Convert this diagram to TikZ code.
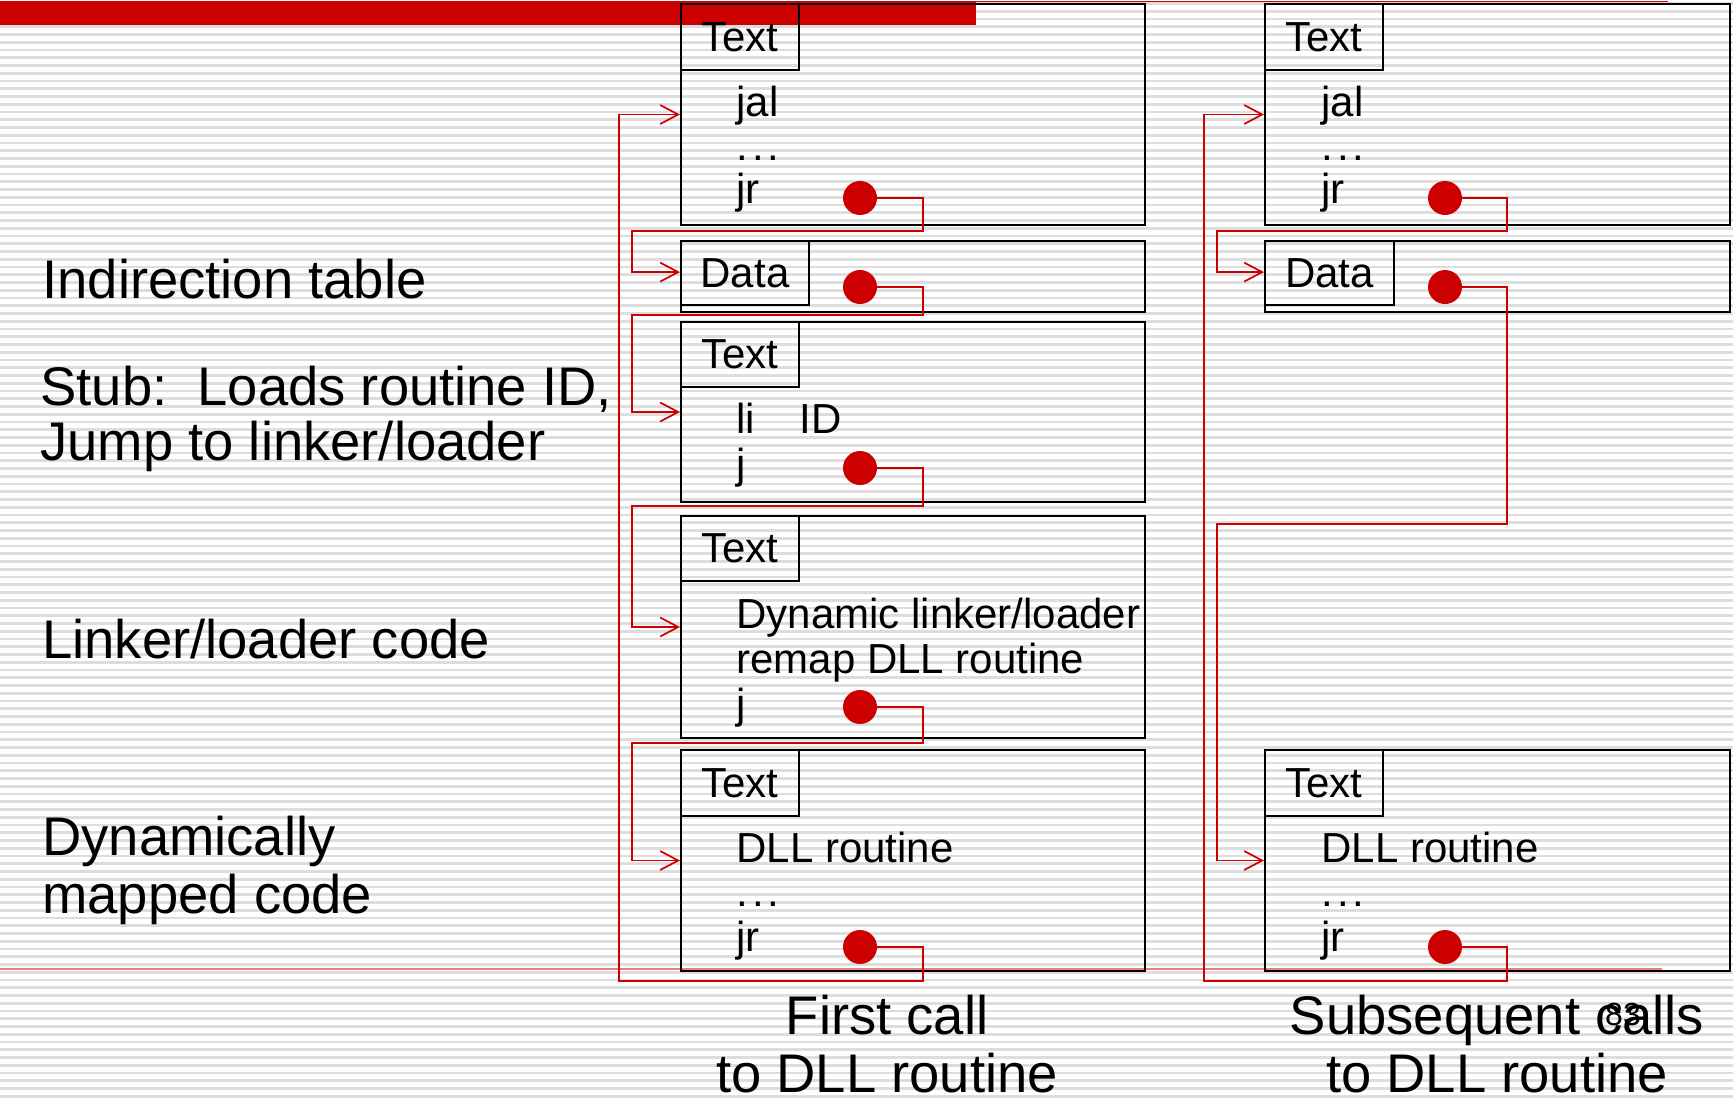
\documentclass[tikz,border=0pt]{standalone}
\usepackage{fontspec}
\setmainfont{Liberation Sans}
\usetikzlibrary{arrows.meta}
\definecolor{slidered}{RGB}{204,0,0}
\definecolor{stripegray}{RGB}{221,221,221}
\definecolor{footred}{RGB}{232,128,128}
\newcommand{\bigfont}{\fontsize{27.2}{31}\selectfont}
\newcommand{\codefont}{\fontsize{21}{24}\selectfont}
\newcommand{\gap}{.\kern2pt.\kern2pt.}
\begin{document}
\begin{tikzpicture}[x=0.5pt,y=-0.5pt,>={Straight Barb[length=9pt,width=9.5pt]},
  box/.style={draw,line width=1pt,inner sep=0,anchor=north west},
  tab/.style={draw,line width=1pt,inner sep=0,anchor=north west,font=\codefont,minimum height=33pt},
  code/.style={anchor=base west,inner sep=0,font=\codefont},
  side/.style={anchor=base west,inner sep=0,font=\bigfont},
  capt/.style={anchor=base,inner sep=0,font=\bigfont},
  dot/.style={circle,fill=slidered,inner sep=0,minimum size=17pt},
  link/.style={draw=slidered,line width=0.85pt,->}]
\useasboundingbox (0,0) rectangle (1733,1098);
% slide background
\fill[white] (0,0) rectangle (1733,1098);
\foreach \k in {0,...,141}
  \fill[stripegray] (0,2.2+7.75*\k) rectangle ++(1733,2.7);
\fill[slidered] (0,0.5) rectangle (976,25);
\draw[slidered,line width=0.75pt] (976,1.5)--(1668,1.5);
\draw[footred,line width=1pt] (0,969)--(1662,969);
% left labels
\node[side] (indir) at (42,298) {Indirection table};
\node[side] (stub) at (40,405) {Stub:\ \ Loads routine ID,};
\node[side] (jump) at (40,460) {Jump to linker/loader};
\node[side] (linker) at (42,658) {Linker/loader code};
\node[side] (dyn) at (42,855) {Dynamically};
\node[side] (mapped) at (42,913) {mapped code};
% first call
\node[box,minimum width=232pt,minimum height=110.5pt] (t1) at (680,3) {};
\node[tab,minimum width=59pt] (t1tab) at (t1.north west) {Text};
\node[code] (t1jal) at (736,116) {jal};
\node[code] (t1dots) at (736,160) {\gap};
\node[code] (t1jr) at (736,203) {jr};
\node[dot] (t1dot) at (860,198) {};
\node[box,minimum width=232pt,minimum height=35.5pt] (d1) at (680,240) {};
\node[tab,minimum width=64pt,minimum height=32pt] (d1tab) at (d1.north west) {Data};
\node[dot] (d1dot) at (860,287) {};
\node[box,minimum width=232pt,minimum height=90pt] (s1) at (680,321) {};
\node[tab,minimum width=59pt,minimum height=32.5pt] (s1tab) at (s1.north west) {Text};
\node[code] (s1li) at (736,433) {li};
\node[code] (s1id) at (799,433) {ID};
\node[code] (s1j) at (736,478) {j};
\node[dot] (s1dot) at (860,468) {};
\node[box,minimum width=232pt,minimum height=111pt] (l1) at (680,515) {};
\node[tab,minimum width=59pt,minimum height=32.5pt] (l1tab) at (l1.north west) {Text};
\node[code] (l1dyn) at (736,628) {Dynamic linker/loader};
\node[code] (l1remap) at (736,673) {remap DLL routine};
\node[code] (l1j) at (736,718) {j};
\node[dot] (l1dot) at (860,707) {};
\node[box,minimum width=232pt,minimum height=110.5pt] (r1) at (680,749) {};
\node[tab,minimum width=59pt] (r1tab) at (r1.north west) {Text};
\node[code] (r1dll) at (736,862) {DLL routine};
\node[code] (r1dots) at (736,906) {\gap};
\node[code] (r1jr) at (736,951) {jr};
\node[dot] (r1dot) at (860,947) {};
\draw[link] (t1dot)--(923,198)|-(632,231)|-([yshift=2.2pt]d1.west);
\draw[link] (d1dot)--(923,287)|-(632,315)|-(s1.west);
\draw[link] (s1dot)--(923,468)|-(632,506)|-(l1.west);
\draw[link] (l1dot)--(923,707)|-(632,743)|-(r1.west);
\draw[link] (r1dot)--(923,947)|-(619,981)|-(t1.west);
\node[capt] (first) at (887,1034) {First call};
\node[capt] (firstb) at (887,1092) {to DLL routine};
% subsequent calls
\node[box,minimum width=232.5pt,minimum height=110.5pt] (t2) at (1264,3) {};
\node[tab,minimum width=59pt] (t2tab) at (t2.north west) {Text};
\node[code] (t2jal) at (1321,116) {jal};
\node[code] (t2dots) at (1321,160) {\gap};
\node[code] (t2jr) at (1321,203) {jr};
\node[dot] (t2dot) at (1445,198) {};
\node[box,minimum width=232.5pt,minimum height=35.5pt] (d2) at (1264,240) {};
\node[tab,minimum width=64.5pt,minimum height=32pt] (d2tab) at (d2.north west) {Data};
\node[dot] (d2dot) at (1445,287) {};
\node[box,minimum width=232.5pt,minimum height=110.5pt] (r2) at (1264,749) {};
\node[tab,minimum width=59pt] (r2tab) at (r2.north west) {Text};
\node[code] (r2dll) at (1321,862) {DLL routine};
\node[code] (r2dots) at (1321,906) {\gap};
\node[code] (r2jr) at (1321,951) {jr};
\node[dot] (r2dot) at (1445,947) {};
\draw[link] (t2dot)--(1507,198)|-(1217,231)|-([yshift=2.2pt]d2.west);
\draw[link] (d2dot)--(1507,287)|-(1217,524)|-(r2.west);
\draw[link] (r2dot)--(1507,947)|-(1204,981)|-(t2.west);
\node[capt] (subs) at (1497,1034) {Subsequent calls};
\node[capt] (subsb) at (1497,1092) {to DLL routine};
\node[anchor=base,inner sep=0,font=\fontsize{16}{18}\selectfont] (pagenum) at (1623,1025) {83};
\end{tikzpicture}
\end{document}
